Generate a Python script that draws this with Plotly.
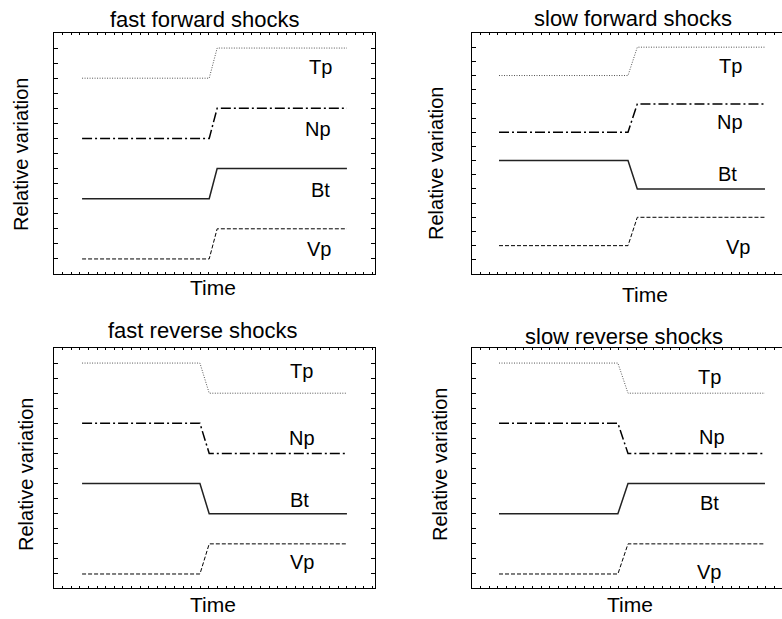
import plotly.graph_objects as go

# ---------------- data ----------------
panel_titles = ["fast forward shocks", "slow forward shocks",
                "fast reverse shocks", "slow reverse shocks"]
series_names = ["Tp", "Np", "Bt", "Vp"]

# time break points (start, shock start, shock end, end)
ff_time = [0, 48, 51, 100]
sf_time = [0, 48.5, 52, 100]
fr_time = [0, 44.5, 48, 100]
sr_time = [0, 44.7, 48.5, 100]

# relative variation levels (arbitrary units, stacked)
ff_Tp = [12, 12, 14, 14]
ff_Np = [8, 8, 10, 10]
ff_Bt = [4, 4, 6, 6]
ff_Vp = [0, 0, 2, 2]

sf_Tp = [12, 12, 14, 14]
sf_Np = [8, 8, 10, 10]
sf_Bt = [6, 6, 4, 4]
sf_Vp = [0, 0, 2, 2]

fr_Tp = [14, 14, 12, 12]
fr_Np = [10, 10, 8, 8]
fr_Bt = [6, 6, 4, 4]
fr_Vp = [0, 0, 2, 2]

sr_Tp = [14, 14, 12, 12]
sr_Np = [10, 10, 8, 8]
sr_Bt = [4, 4, 6, 6]
sr_Vp = [0, 0, 2, 2]

# ---------------- layout helpers ----------------
W, H = 782, 619
def px_x(p):
    return p / W
def px_y(p):
    return 1 - p / H

FONT = "Liberation Sans, Arial, Helvetica, sans-serif"

styles = {
    "Tp": dict(color="#555555", width=1, dash="1px,1.5px"),
    "Np": dict(color="black", width=1.5, dash="10px,3px,2px,3px"),
    "Bt": dict(color="#222222", width=1.5, dash="solid"),
    "Vp": dict(color="black", width=1, dash="4px,2px"),
}

panels = [
    dict(time=ff_time, series=[ff_Tp, ff_Np, ff_Bt, ff_Vp],
         dom_x=[54, 375], dom_y=[33, 274], xr=[-10.6, 110.6], yr=[-1, 15],
         right=True, title_xy=(205, 20), time_xy=(213, 287), rel_xy=(21, 155),
         lab_x=[90, 89, 90, 89.5], lab_y=[12.75, 8.6, 4.6, 0.65]),
    dict(time=sf_time, series=[sf_Tp, sf_Np, sf_Bt, sf_Vp],
         dom_x=[472, 782], dom_y=[33, 274], xr=[-10.15, 106.4], yr=[-2, 15],
         right=False, title_xy=(633, 19), time_xy=(645, 294), rel_xy=(436, 164),
         lab_x=[87, 87, 86, 90], lab_y=[12.7, 8.7, 5.07, -0.1]),
    dict(time=fr_time, series=[fr_Tp, fr_Np, fr_Bt, fr_Vp],
         dom_x=[54, 375], dom_y=[348, 588], xr=[-10.6, 110.6], yr=[-0.93, 15],
         right=True, title_xy=(203, 330), time_xy=(213, 604), rel_xy=(26, 475),
         lab_x=[83, 83, 82, 83], lab_y=[13.47, 9.0, 4.9, 0.8]),
    dict(time=sr_time, series=[sr_Tp, sr_Np, sr_Bt, sr_Vp],
         dom_x=[472, 782], dom_y=[348, 588], xr=[-10.15, 106.4], yr=[-0.93, 15],
         right=False, title_xy=(624, 336), time_xy=(630, 604), rel_xy=(440, 465),
         lab_x=[79, 80, 79, 79], lab_y=[13.1, 9.1, 4.7, 0.13]),
]

fig = go.Figure()
annotations = []
layout_axes = {}

for i, p in enumerate(panels, start=1):
    xa = "x" if i == 1 else f"x{i}"
    ya = "y" if i == 1 else f"y{i}"
    xkey = "xaxis" if i == 1 else f"xaxis{i}"
    ykey = "yaxis" if i == 1 else f"yaxis{i}"

    for name, vals in zip(series_names, p["series"]):
        fig.add_trace(go.Scatter(
            x=p["time"], y=vals, mode="lines", name=name,
            line=styles[name], xaxis=xa, yaxis=ya, showlegend=False,
            hoverinfo="skip"))

    layout_axes[xkey] = dict(
        domain=[px_x(p["dom_x"][0]), min(1.0, px_x(p["dom_x"][1]))],
        range=p["xr"], anchor=ya, showgrid=False, zeroline=False,
        showticklabels=False, showline=True, linecolor="black", linewidth=1.3,
        mirror="ticks", ticks="inside", ticklen=2, tickwidth=1, tickcolor="black",
        tickmode="linear", tick0=p["xr"][0], dtick=3.25, fixedrange=True)
    layout_axes[ykey] = dict(
        domain=[px_y(p["dom_y"][1]), px_y(p["dom_y"][0])],
        range=p["yr"], anchor=xa, showgrid=False, zeroline=False,
        showticklabels=False, showline=True, linecolor="black", linewidth=1.3,
        mirror="ticks" if p["right"] else False,
        ticks="inside", ticklen=4, tickwidth=1, tickcolor="black",
        tickmode="linear", tick0=0, dtick=1, fixedrange=True)

    # panel title
    annotations.append(dict(
        text=panel_titles[i - 1], xref="paper", yref="paper",
        x=px_x(p["title_xy"][0]), y=px_y(p["title_xy"][1]),
        xanchor="center", yanchor="middle", showarrow=False,
        font=dict(family=FONT, size=22, color="black")))
    # x title
    annotations.append(dict(
        text="Time", xref="paper", yref="paper",
        x=px_x(p["time_xy"][0]), y=px_y(p["time_xy"][1]),
        xanchor="center", yanchor="middle", showarrow=False,
        font=dict(family=FONT, size=21, color="black")))
    # y title
    annotations.append(dict(
        text="Relative variation", xref="paper", yref="paper",
        x=px_x(p["rel_xy"][0]), y=px_y(p["rel_xy"][1]),
        xanchor="center", yanchor="middle", showarrow=False, textangle=-90,
        font=dict(family=FONT, size=20, color="black")))
    # series labels
    for name, lx, ly in zip(series_names, p["lab_x"], p["lab_y"]):
        annotations.append(dict(
            text=name, xref=xa, yref=ya, x=lx, y=ly,
            xanchor="center", yanchor="middle", showarrow=False,
            font=dict(family=FONT, size=20, color="black")))

fig.update_layout(
    width=W, height=H,
    margin=dict(l=0, r=0, t=0, b=0),
    paper_bgcolor="white", plot_bgcolor="white",
    hovermode=False,
    annotations=annotations,
    **layout_axes)

fig.write_html("out.html",
               config={"displayModeBar": False, "staticPlot": True},
               post_script="document.body.style.margin='0';"
                           "document.body.style.overflow='hidden';")
